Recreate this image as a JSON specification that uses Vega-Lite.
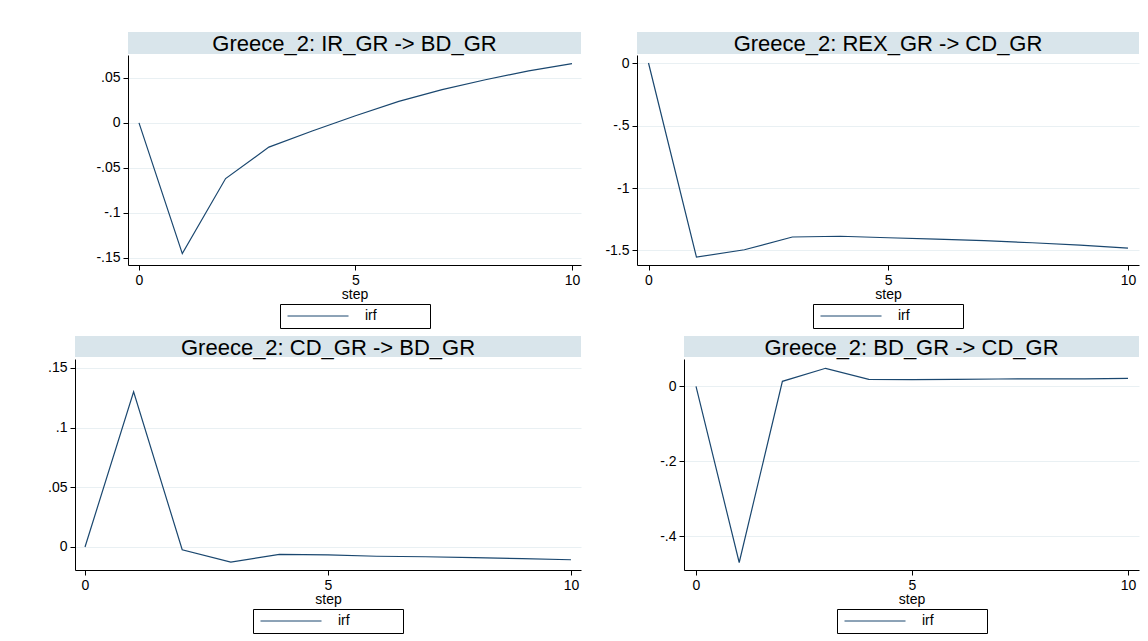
{
  "$schema": "https://vega.github.io/schema/vega-lite/v6.json",
  "background": "white",
  "padding": {"left": 28, "top": 32, "right": 6, "bottom": 6},
  "autosize": {"type": "pad"},
  "datasets": {
    "ir_bd": [
      {"step": 0, "irf": 0},
      {"step": 1, "irf": -0.1456},
      {"step": 2, "irf": -0.062},
      {"step": 3, "irf": -0.027},
      {"step": 4, "irf": -0.009},
      {"step": 5, "irf": 0.008},
      {"step": 6, "irf": 0.024},
      {"step": 7, "irf": 0.037},
      {"step": 8, "irf": 0.048},
      {"step": 9, "irf": 0.058},
      {"step": 10, "irf": 0.066}
    ],
    "rex_cd": [
      {"step": 0, "irf": 0},
      {"step": 1, "irf": -1.553},
      {"step": 2, "irf": -1.494},
      {"step": 3, "irf": -1.392},
      {"step": 4, "irf": -1.386},
      {"step": 5, "irf": -1.398},
      {"step": 6, "irf": -1.409},
      {"step": 7, "irf": -1.421},
      {"step": 8, "irf": -1.438},
      {"step": 9, "irf": -1.457},
      {"step": 10, "irf": -1.481}
    ],
    "cd_bd": [
      {"step": 0, "irf": 0},
      {"step": 1, "irf": 0.130},
      {"step": 2, "irf": -0.0023},
      {"step": 3, "irf": -0.0127},
      {"step": 4, "irf": -0.0062},
      {"step": 5, "irf": -0.0066},
      {"step": 6, "irf": -0.0078},
      {"step": 7, "irf": -0.0082},
      {"step": 8, "irf": -0.0090},
      {"step": 9, "irf": -0.0097},
      {"step": 10, "irf": -0.0107}
    ],
    "bd_cd": [
      {"step": 0, "irf": 0},
      {"step": 1, "irf": -0.470},
      {"step": 2, "irf": 0.0133},
      {"step": 3, "irf": 0.048},
      {"step": 4, "irf": 0.0187},
      {"step": 5, "irf": 0.0178},
      {"step": 6, "irf": 0.0187},
      {"step": 7, "irf": 0.0195},
      {"step": 8, "irf": 0.0197},
      {"step": 9, "irf": 0.0200},
      {"step": 10, "irf": 0.0213}
    ]
  },
  "config": {
    "font": "Liberation Sans",
    "view": {"stroke": null},
    "axis": {
      "domainColor": "#000000",
      "domainWidth": 1,
      "tickColor": "#000000",
      "tickSize": 5,
      "gridColor": "#e9f0f3",
      "gridWidth": 1,
      "labelFont": "Liberation Sans",
      "labelFontSize": 14,
      "labelColor": "#000000",
      "labelPadding": 3,
      "titleFont": "Liberation Sans",
      "titleFontSize": 14,
      "titleFontWeight": "normal",
      "titleColor": "#000000",
      "titlePadding": 0
    },
    "legend": {
      "layout": {"bottom": {"anchor": "middle"}},
      "orient": "bottom",
      "title": null,
      "symbolType": "M-0.75,0H9.42M21.75,0",
      "symbolSize": 144,
      "symbolStrokeWidth": 1,
      "strokeColor": "#000000",
      "padding": 5,
      "offset": 3,
      "labelFontSize": 14,
      "labelColor": "#000000",
      "labelOffset": 66
    }
  },
  "spacing": 7,
  "resolve": {"scale": {"color": "independent"}, "legend": {"color": "independent"}},
  "vconcat": [
    {
      "spacing": 8,
      "resolve": {"scale": {"color": "independent"}, "legend": {"color": "independent"}},
      "hconcat": [
        {
          "width": 1, "height": 1,
          "data": {"values": []},
          "mark": "point",
          "encoding": {}
        },
        {
          "spacing": 0,
          "resolve": {"scale": {"color": "independent"}, "legend": {"color": "independent"}},
          "vconcat": [
            {
              "width": 453, "height": 22,
              "view": {"fill": "#d9e5eb", "stroke": null},
              "data": {"values": [{"t": "Greece_2: IR_GR -> BD_GR"}]},
              "mark": {"type": "text", "fontSize": 22, "color": "#000000", "baseline": "middle", "dy": 1},
              "encoding": {"text": {"field": "t"}}
            },
            {
              "width": 453, "height": 210,
              "data": {"name": "ir_bd"},
              "mark": {"type": "line", "strokeWidth": 1.2},
              "encoding": {
                "x": {"field": "step", "type": "quantitative",
                  "scale": {"domain": [-0.254, 10.208], "nice": false, "zero": false},
                  "axis": {"values": [0, 5, 10], "title": "step", "grid": false}},
                "y": {"field": "irf", "type": "quantitative",
                  "scale": {"domain": [-0.1583, 0.0756], "nice": false, "zero": false},
                  "axis": {"values": [-0.15, -0.1, -0.05, 0, 0.05], "title": null, "grid": true,
                    "minExtent": 91, "maxExtent": 91,
                    "labelExpr": "replace('' + datum.value, /^(-?)0\\./, '$1.')"}},
                "color": {"datum": "irf", "type": "nominal", "scale": {"range": ["#1a476f"]}}
              }
            }
          ]
        },
        {
          "spacing": 0,
          "resolve": {"scale": {"color": "independent"}, "legend": {"color": "independent"}},
          "vconcat": [
            {
              "width": 502, "height": 22,
              "view": {"fill": "#d9e5eb", "stroke": null},
              "data": {"values": [{"t": "Greece_2: REX_GR -> CD_GR"}]},
              "mark": {"type": "text", "fontSize": 22, "color": "#000000", "baseline": "middle", "dy": 1},
              "encoding": {"text": {"field": "t"}}
            },
            {
              "width": 502, "height": 210,
              "data": {"name": "rex_cd"},
              "mark": {"type": "line", "strokeWidth": 1.2},
              "encoding": {
                "x": {"field": "step", "type": "quantitative",
                  "scale": {"domain": [-0.24, 10.23], "nice": false, "zero": false},
                  "axis": {"values": [0, 5, 10], "title": "step", "grid": false}},
                "y": {"field": "irf", "type": "quantitative",
                  "scale": {"domain": [-1.616, 0.064], "nice": false, "zero": false},
                  "axis": {"values": [-1.5, -1, -0.5, 0], "title": null, "grid": true,
                    "minExtent": 48, "maxExtent": 48,
                    "labelExpr": "replace('' + datum.value, /^(-?)0\\./, '$1.')"}},
                "color": {"datum": "irf", "type": "nominal", "scale": {"range": ["#1a476f"]}}
              }
            }
          ]
        }
      ]
    },
    {
      "spacing": 8,
      "resolve": {"scale": {"color": "independent"}, "legend": {"color": "independent"}},
      "hconcat": [
        {
          "width": 1, "height": 1,
          "data": {"values": []},
          "mark": "point",
          "encoding": {}
        },
        {
          "spacing": 0,
          "resolve": {"scale": {"color": "independent"}, "legend": {"color": "independent"}},
          "vconcat": [
            {
              "width": 506, "height": 21,
              "view": {"fill": "#d9e5eb", "stroke": null},
              "data": {"values": [{"t": "Greece_2: CD_GR -> BD_GR"}]},
              "mark": {"type": "text", "fontSize": 22, "color": "#000000", "baseline": "middle", "dy": 1},
              "encoding": {"text": {"field": "t"}}
            },
            {
              "width": 506, "height": 211,
              "data": {"name": "cd_bd"},
              "mark": {"type": "line", "strokeWidth": 1.2},
              "encoding": {
                "x": {"field": "step", "type": "quantitative",
                  "scale": {"domain": [-0.206, 10.206], "nice": false, "zero": false},
                  "axis": {"values": [0, 5, 10], "title": "step", "grid": false}},
                "y": {"field": "irf", "type": "quantitative",
                  "scale": {"domain": [-0.0193, 0.1575], "nice": false, "zero": false},
                  "axis": {"values": [0, 0.05, 0.1, 0.15], "title": null, "grid": true,
                    "minExtent": 38, "maxExtent": 38,
                    "labelExpr": "replace('' + datum.value, /^(-?)0\\./, '$1.')"}},
                "color": {"datum": "irf", "type": "nominal", "scale": {"range": ["#1a476f"]}}
              }
            }
          ]
        },
        {
          "spacing": 0,
          "resolve": {"scale": {"color": "independent"}, "legend": {"color": "independent"}},
          "vconcat": [
            {
              "width": 455, "height": 21,
              "view": {"fill": "#d9e5eb", "stroke": null},
              "data": {"values": [{"t": "Greece_2: BD_GR -> CD_GR"}]},
              "mark": {"type": "text", "fontSize": 22, "color": "#000000", "baseline": "middle", "dy": 1},
              "encoding": {"text": {"field": "t"}}
            },
            {
              "width": 455, "height": 211,
              "data": {"name": "bd_cd"},
              "mark": {"type": "line", "strokeWidth": 1.2},
              "encoding": {
                "x": {"field": "step", "type": "quantitative",
                  "scale": {"domain": [-0.278, 10.255], "nice": false, "zero": false},
                  "axis": {"values": [0, 5, 10], "title": "step", "grid": false}},
                "y": {"field": "irf", "type": "quantitative",
                  "scale": {"domain": [-0.490, 0.0728], "nice": false, "zero": false},
                  "axis": {"values": [-0.4, -0.2, 0], "title": null, "grid": true,
                    "minExtent": 95, "maxExtent": 95,
                    "labelExpr": "replace('' + datum.value, /^(-?)0\\./, '$1.')"}},
                "color": {"datum": "irf", "type": "nominal", "scale": {"range": ["#1a476f"]}}
              }
            }
          ]
        }
      ]
    }
  ]
}
